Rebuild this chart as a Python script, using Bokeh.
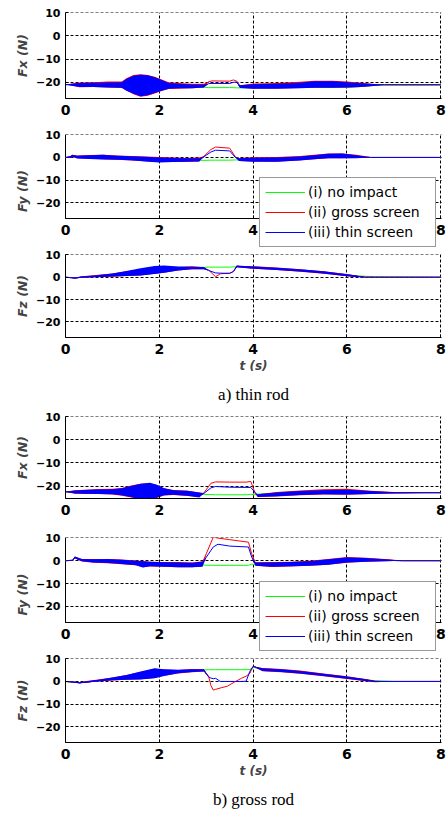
from bokeh.plotting import figure
from bokeh.layouts import column
from bokeh.models import Range1d, FixedTicker, Legend, LegendItem, Title, Grid
from bokeh.embed import file_html
from bokeh.resources import INLINE

# ---------------- data ----------------
SERIES_LABELS = ["(i) no impact", "(ii) gross screen", "(iii) thin screen"]
X_TICKS = [0, 2, 4, 6, 8]
Y_TICKS = [-20, -10, 0, 10]

# a) thin rod - Fx
TR_FX_T = [0, 0.1, 0.3, 0.6, 0.9, 1.2, 1.3, 1.45, 1.6, 1.75, 1.9, 2.05, 2.2, 2.4, 2.7, 2.95, 3.05, 3.12, 3.5, 3.58, 3.65, 3.72, 4.0, 4.5, 5.0, 5.3, 5.7, 6.0, 6.3, 6.6, 6.8, 8.0]
TR_FX_GREEN = [-21, -21, -21.2, -21.2, -21.3, -21.4, -21.4, -21.5, -21.5, -21.5, -21.5, -21.5, -21.6, -21.7, -21.9, -22.1, -22.3, -22.3, -22.3, -22.3, -22.4, -22.4, -22.4, -22.3, -22.2, -22.2, -22.2, -22.1, -21.8, -21.4, -21.2, -21.2]
TR_FX_RED = [-21, -21, -21, -21, -20.8, -20.8, -20.9, -21, -21.3, -21.3, -21.3, -21.3, -21.4, -21.5, -21.6, -21.3, -19.8, -19.4, -19.5, -19.0, -19.5, -22.0, -21.8, -21.6, -21.3, -20.9, -20.9, -21.0, -21.1, -21.0, -21.0, -21.0]
TR_FX_RED_LO = [-21, -21.3, -22.1, -22.0, -22.2, -22.5, -23.5, -25.2, -26.2, -25.8, -24.8, -23.8, -22.9, -22.8, -22.6, -22.2, -19.8, -19.4, -19.5, -19.0, -19.5, -22.4, -22.7, -22.7, -22.5, -22.3, -22.3, -22.2, -22.0, -21.5, -21.0, -21.0]
TR_FX_RED_HI = [-21, -20.6, -20.1, -20.0, -19.7, -19.7, -18.3, -16.9, -16.5, -16.8, -17.6, -18.8, -20.0, -20.3, -20.6, -20.6, -19.8, -19.4, -19.5, -19.0, -19.5, -21.3, -20.5, -20.3, -19.8, -19.3, -19.3, -19.7, -20.2, -20.7, -21.0, -21.0]
TR_FX_BLUE = [-21, -21, -21.1, -21.1, -21.1, -21.2, -21.2, -21.1, -21.3, -21.3, -21.2, -21.3, -21.5, -21.6, -21.7, -21.6, -20.6, -20.5, -20.5, -20.0, -19.9, -22.0, -21.8, -21.7, -21.4, -21.0, -21.0, -21.1, -21.2, -21.1, -21.1, -21.1]
TR_FX_BLUE_LO = [-21, -21.4, -22.0, -22.0, -22.2, -22.4, -23.6, -25.0, -26.0, -25.6, -24.6, -23.6, -22.8, -22.6, -22.6, -22.3, -20.6, -20.5, -20.5, -20.0, -19.9, -22.5, -22.8, -22.8, -22.6, -22.4, -22.4, -22.3, -22.0, -21.5, -21.1, -21.1]
TR_FX_BLUE_HI = [-21, -20.7, -20.3, -20.2, -20.1, -20.0, -18.5, -17.2, -16.7, -17.0, -17.8, -19.0, -20.3, -20.6, -20.9, -21.0, -20.6, -20.5, -20.5, -20.0, -19.9, -21.3, -20.8, -20.6, -20.2, -19.6, -19.6, -20.0, -20.4, -20.8, -21.1, -21.1]

# a) thin rod - Fy
TR_FY_T = [0, 0.1, 0.15, 0.25, 0.5, 0.8, 1.1, 1.4, 1.7, 2.0, 2.3, 2.6, 2.85, 2.95, 3.1, 3.2, 3.5, 3.62, 3.7, 4.0, 4.5, 5.0, 5.3, 5.6, 5.9, 6.2, 6.5, 8.0]
TR_FY_GREEN = [0, 0.2, 1.0, 0.2, 0.2, 0, -0.2, -0.4, -0.8, -1.0, -1.1, -1.2, -1.2, -1.3, -1.2, -1.2, -1.2, -1.1, -1.1, -1.0, -0.9, -0.5, -0.1, 0.3, 0.4, 0.3, 0, 0]
TR_FY_RED = [0, 0.2, 0.8, 0.3, 0.2, 0, -0.2, -0.4, -0.8, -1.0, -1.1, -1.2, -1.0, 0.5, 3.5, 4.6, 4.1, 0.3, -0.8, -0.9, -0.9, -0.5, -0.1, 0.3, 0.4, 0.3, 0, 0]
TR_FY_RED_LO = [0, -0.2, 0.2, -0.4, -0.6, -0.8, -1.0, -1.3, -1.7, -2.0, -2.0, -1.9, -1.8, 0.5, 3.5, 4.6, 4.1, 0.3, -1.6, -1.8, -1.9, -1.2, -0.8, -0.4, -0.3, -0.2, 0, 0]
TR_FY_RED_HI = [0, 0.6, 1.1, 0.9, 1.1, 1.2, 0.9, 0.6, 0.4, 0.2, 0.0, -0.2, 0.0, 0.5, 3.5, 4.6, 4.1, 0.3, -0.2, 0.1, 0.2, 0.6, 1.2, 1.7, 1.8, 1.2, 0.2, 0]
TR_FY_BLUE = [0, 0.2, 0.8, 0.2, 0.1, -0.1, -0.3, -0.5, -0.9, -1.1, -1.1, -1.2, -1.1, 0.3, 2.4, 3.2, 2.9, 0.0, -0.9, -1.0, -1.0, -0.6, -0.2, 0.3, 0.5, 0.3, 0, 0]
TR_FY_BLUE_LO = [0, -0.2, 0.3, -0.5, -0.7, -0.9, -1.0, -1.2, -1.8, -2.2, -2.0, -1.9, -1.8, 0.3, 2.4, 3.2, 2.9, 0.0, -1.6, -1.9, -1.9, -1.3, -0.8, -0.4, -0.3, -0.3, 0, 0]
TR_FY_BLUE_HI = [0, 0.5, 1.2, 0.8, 1.0, 1.2, 0.8, 0.5, 0.3, 0.0, -0.2, -0.4, -0.3, 0.3, 2.4, 3.2, 2.9, 0.0, -0.3, -0.1, 0.0, 0.4, 1.0, 1.6, 1.7, 1.0, 0, 0]

# a) thin rod - Fz
TR_FZ_T = [0, 0.1, 0.2, 0.35, 0.6, 1.0, 1.3, 1.6, 1.9, 2.1, 2.4, 2.7, 2.95, 3.05, 3.2, 3.3, 3.5, 3.58, 3.65, 4.0, 4.5, 5.0, 5.5, 6.0, 6.2, 6.4, 6.6, 8.0]
TR_FZ_GREEN = [0, -0.2, -0.4, 0, 0.3, 0.9, 1.5, 2.2, 2.9, 3.3, 3.8, 4.3, 4.4, 4.5, 4.5, 4.5, 4.5, 4.6, 4.7, 4.3, 3.8, 3.1, 2.2, 1.0, 0.6, 0.4, 0.2, 0]
TR_FZ_RED = [0, -0.2, -0.4, 0, 0.3, 0.8, 1.4, 2.1, 2.8, 3.2, 3.7, 4.1, 3.9, 3.2, 0.2, 1.5, 1.8, 2.6, 4.9, 4.3, 3.7, 3.0, 2.1, 0.9, 0.4, 0, 0, 0]
TR_FZ_RED_LO = [0, -0.3, -0.5, -0.2, 0, 0.2, 0.5, 0.8, 1.5, 2.0, 3.0, 3.5, 3.5, 3.2, 0.2, 1.5, 1.8, 2.6, 4.4, 3.8, 3.2, 2.4, 1.5, 0.4, 0.1, 0, 0, 0]
TR_FZ_RED_HI = [0, 0, -0.1, 0.4, 0.9, 1.6, 2.6, 3.6, 4.6, 4.8, 4.6, 4.9, 4.4, 3.2, 0.2, 1.5, 1.8, 2.6, 5.0, 4.9, 4.3, 3.6, 2.7, 1.4, 0.8, 0, 0, 0]
TR_FZ_BLUE = [0, -0.2, -0.4, 0, 0.3, 0.8, 1.4, 2.1, 2.8, 3.2, 3.7, 4.1, 3.9, 3.0, 1.9, 1.8, 1.7, 2.5, 4.9, 4.3, 3.7, 3.0, 2.1, 0.9, 0.4, 0, 0, 0]
TR_FZ_BLUE_LO = [0, -0.3, -0.6, -0.2, 0, 0.3, 0.5, 0.7, 1.4, 2.0, 3.0, 3.6, 3.6, 3.0, 1.9, 1.8, 1.7, 2.5, 4.4, 3.8, 3.2, 2.5, 1.6, 0.4, 0.1, 0, 0, 0]
TR_FZ_BLUE_HI = [0, 0, -0.2, 0.3, 0.8, 1.6, 2.8, 4.0, 5.0, 5.2, 4.8, 4.7, 4.5, 3.0, 1.9, 1.8, 1.7, 2.5, 5.2, 4.8, 4.2, 3.5, 2.6, 1.3, 0.8, 0, 0, 0]

# b) gross rod - Fx
GR_FX_T = [0, 0.2, 0.4, 0.7, 1.0, 1.2, 1.4, 1.6, 1.8, 1.95, 2.1, 2.3, 2.6, 2.85, 2.95, 3.1, 3.2, 3.5, 3.85, 3.95, 4.05, 4.1, 4.5, 5.0, 5.5, 6.0, 6.5, 7.0, 8.0]
GR_FX_GREEN = [-22.5, -22.6, -22.5, -22.3, -22.3, -22.5, -22.7, -22.8, -22.9, -22.9, -22.8, -22.9, -23.1, -23.5, -23.6, -23.7, -23.8, -23.8, -23.8, -23.6, -23.8, -23.5, -23.2, -22.8, -22.6, -22.6, -22.7, -22.9, -22.9]
GR_FX_RED = [-22.5, -22.6, -22.5, -22.4, -22.4, -22.6, -22.8, -22.9, -23.0, -22.9, -22.8, -22.9, -23.2, -24.0, -23.0, -18.8, -18.2, -18.3, -18.3, -18.0, -23.5, -24.2, -23.6, -23.0, -22.7, -22.7, -22.8, -22.9, -22.9]
GR_FX_RED_LO = [-22.5, -23.3, -23.4, -23.5, -23.7, -24.2, -25.0, -26.0, -26.0, -25.2, -24.1, -23.9, -24.3, -24.8, -23.0, -18.8, -18.2, -18.3, -18.3, -18.0, -23.5, -24.8, -24.5, -24.0, -23.7, -23.8, -23.5, -23.2, -22.9]
GR_FX_RED_HI = [-22.5, -21.8, -21.6, -21.3, -21.2, -20.8, -19.8, -19.0, -18.8, -19.6, -21.0, -21.7, -22.0, -22.8, -23.0, -18.8, -18.2, -18.3, -18.3, -18.0, -23.5, -23.6, -22.6, -21.9, -21.4, -21.2, -22.0, -22.6, -22.9]
GR_FX_BLUE = [-22.5, -22.6, -22.5, -22.4, -22.4, -22.6, -22.8, -22.9, -23.0, -22.9, -22.8, -22.9, -23.2, -24.0, -23.2, -20.8, -20.2, -20.5, -20.6, -20.6, -23.0, -24.2, -23.6, -23.0, -22.7, -22.7, -22.8, -22.9, -22.9]
GR_FX_BLUE_LO = [-22.5, -23.2, -23.3, -23.4, -23.6, -24.0, -24.8, -25.8, -26.0, -25.0, -24.0, -23.8, -24.2, -25.0, -23.2, -20.8, -20.2, -20.5, -20.6, -20.6, -23.0, -24.8, -24.4, -23.9, -23.6, -23.7, -23.4, -23.1, -22.9]
GR_FX_BLUE_HI = [-22.5, -21.9, -21.7, -21.5, -21.4, -21.0, -20.0, -19.0, -18.6, -19.4, -21.0, -21.8, -22.0, -22.8, -23.2, -20.8, -20.2, -20.5, -20.6, -20.6, -23.0, -23.6, -22.8, -22.2, -21.8, -21.6, -22.2, -22.7, -22.9]

# b) gross rod - Fy
GR_FY_T = [0, 0.15, 0.2, 0.25, 0.35, 0.6, 0.9, 1.2, 1.5, 1.65, 1.8, 2.1, 2.4, 2.7, 2.92, 3.0, 3.15, 3.25, 3.5, 3.9, 3.97, 4.05, 4.4, 4.8, 5.2, 5.6, 6.0, 6.4, 6.8, 7.2, 8.0]
GR_FY_GREEN = [0, 0.2, 1.4, 0.8, 0.3, -0.2, -0.3, -0.6, -1.0, -1.2, -1.4, -1.6, -1.7, -1.8, -1.8, -2.0, -2.0, -2.0, -2.0, -2.0, -1.5, -1.8, -1.7, -1.5, -1.2, -0.6, 0.3, 0.4, 0.2, 0, 0]
GR_FY_RED = [0, 0.2, 1.5, 1.0, 0.3, -0.2, -0.3, -0.6, -1.0, -1.3, -1.4, -1.6, -1.7, -1.8, -1.2, 3.0, 10.3, 9.9, 9.2, 8.1, 3.0, -1.4, -1.7, -1.5, -1.2, -0.6, 0.3, 0.4, 0.2, 0, 0]
GR_FY_RED_LO = [0, 0, 1.2, 0.6, -0.3, -0.9, -1.1, -1.5, -2.0, -2.8, -2.5, -2.6, -2.9, -2.8, -2.4, 3.0, 10.3, 9.9, 9.2, 8.1, 3.0, -2.2, -2.7, -2.5, -2.2, -1.8, -0.9, -0.5, -0.2, 0, 0]
GR_FY_RED_HI = [0, 0.3, 1.8, 1.5, 0.8, 0.7, 0.8, 0.5, 0.1, -0.1, -0.4, -0.6, -0.6, -0.8, -0.2, 3.0, 10.3, 9.9, 9.2, 8.1, 3.0, -0.7, -0.6, -0.4, 0.0, 0.8, 1.6, 1.3, 0.7, 0.1, 0]
GR_FY_BLUE = [0, 0.2, 1.3, 0.8, 0.2, -0.2, -0.3, -0.6, -1.0, -1.5, -1.4, -1.6, -1.8, -1.8, -1.4, 1.5, 6.0, 7.2, 6.4, 6.0, 1.5, -1.5, -1.7, -1.5, -1.1, -0.6, 0.3, 0.4, 0.2, 0, 0]
GR_FY_BLUE_LO = [0, 0, 1.2, 0.5, -0.2, -0.8, -1.0, -1.4, -2.0, -3.0, -2.4, -2.6, -2.8, -2.8, -2.6, 1.5, 6.0, 7.2, 6.4, 6.0, 1.5, -2.2, -2.6, -2.4, -2.2, -1.8, -0.8, -0.4, -0.2, 0, 0]
GR_FY_BLUE_HI = [0, 0.3, 1.8, 1.4, 0.8, 0.6, 0.7, 0.4, 0.0, -0.2, -0.5, -0.7, -0.8, -0.9, -0.5, 1.5, 6.0, 7.2, 6.4, 6.0, 1.5, -0.8, -0.8, -0.6, -0.2, 0.6, 1.4, 1.2, 0.6, 0, 0]

# b) gross rod - Fz
GR_FZ_T = [0, 0.15, 0.3, 0.45, 0.7, 1.0, 1.3, 1.6, 1.9, 2.1, 2.4, 2.7, 2.95, 3.05, 3.1, 3.15, 3.2, 3.3, 3.45, 3.6, 3.75, 3.85, 3.93, 4.0, 4.2, 4.6, 5.0, 5.5, 6.0, 6.4, 6.6, 7.0, 8.0]
GR_FZ_GREEN = [0, -0.3, -0.6, -0.3, 0.4, 1.1, 1.7, 2.4, 3.1, 3.6, 4.3, 4.8, 5.1, 5.2, 5.2, 5.2, 5.2, 5.2, 5.2, 5.2, 5.2, 5.2, 5.3, 6.3, 5.2, 4.8, 4.1, 2.9, 1.7, 0.8, 0.3, 0, 0]
GR_FZ_RED = [0, -0.3, -0.6, -0.3, 0.4, 1.1, 1.7, 2.4, 3.1, 3.6, 4.3, 4.8, 4.9, 2.3, -1.8, -3.8, -3.5, -2.9, -2.1, -0.3, 1.4, 2.3, 3.6, 6.7, 5.2, 4.8, 4.1, 2.9, 1.7, 0.6, 0, 0, 0]
GR_FZ_RED_LO = [0, -0.4, -0.8, -0.5, 0.0, 0.4, 0.8, 1.0, 1.5, 2.5, 3.5, 4.1, 4.4, 2.3, -1.8, -3.8, -3.5, -2.9, -2.1, -0.3, 1.4, 2.3, 3.6, 6.7, 4.5, 4.1, 3.4, 2.3, 1.1, 0.1, -0.3, 0, 0]
GR_FZ_RED_HI = [0, 0, -0.3, 0.2, 0.9, 1.8, 2.9, 4.2, 5.6, 5.3, 5.1, 5.5, 5.4, 2.3, -1.8, -3.8, -3.5, -2.9, -2.1, -0.3, 1.4, 2.3, 3.6, 6.7, 5.9, 5.5, 4.8, 3.5, 2.3, 1.1, 0.3, 0, 0]
GR_FZ_BLUE = [0, -0.3, -0.6, -0.3, 0.4, 1.1, 1.7, 2.4, 3.1, 3.6, 4.3, 4.8, 4.9, 2.0, 1.5, 1.2, 1.4, 0, 0, 0, 0, 0.1, 4.5, 6.7, 5.2, 4.8, 4.1, 2.9, 1.7, 0.6, 0, 0, 0]
GR_FZ_BLUE_LO = [0, -0.4, -0.8, -0.5, 0.0, 0.5, 0.8, 0.9, 1.4, 2.4, 3.6, 4.2, 4.4, 2.0, 1.5, 1.2, 1.4, 0, 0, 0, 0, 0.1, 4.5, 6.7, 4.6, 4.2, 3.5, 2.4, 1.2, 0.2, -0.2, 0, 0]
GR_FZ_BLUE_HI = [0, 0, -0.3, 0.1, 0.8, 1.8, 2.8, 4.4, 5.8, 5.4, 5.2, 5.4, 5.4, 2.0, 1.5, 1.2, 1.4, 0, 0, 0, 0, 0.1, 4.5, 6.7, 5.8, 5.4, 4.6, 3.4, 2.2, 1.0, 0.2, 0, 0]

# ---------------- styling / layout ----------------
C_GREEN = "#00ff00"
C_RED = "#ff0000"
C_BLUE = "#0000ff"
TICK_FONT = "DejaVu Sans"
X_END = 8.015     # a hair past 8 so the grid line at 8 is drawn
Y_TOP = 10.15     # a hair past 10 so the grid line at 10 is drawn
FIG_W = 446
B_LEFT = 65
B_RIGHT = 5
FRAME_W = FIG_W - B_LEFT - B_RIGHT
LEG_B_LEFT = 59   # legend panels: frame starts a little left of t = 0
LEG_B_RIGHT = 1
LEG_B_BOTTOM = 1


def style_axes(p, ylabel, xlabel, y_standoff):
    p.xaxis.ticker = FixedTicker(ticks=X_TICKS)
    p.yaxis.ticker = FixedTicker(ticks=Y_TICKS)
    for ax in (p.xaxis[0], p.yaxis[0]):
        ax.axis_line_color = "black"
        ax.axis_line_width = 1
        ax.major_tick_in = 3
        ax.major_tick_out = 0
        ax.major_tick_line_color = "black"
        ax.minor_tick_line_color = None
        ax.major_label_text_font = TICK_FONT
        ax.major_label_text_font_style = "bold"
        ax.major_label_text_color = "black"
    p.xaxis.major_label_text_font_size = "14px"
    p.xaxis.major_label_standoff = 6
    p.yaxis.major_label_text_font_size = "11px"
    p.yaxis.major_label_standoff = y_standoff

    p.yaxis.axis_label = ylabel
    p.yaxis.axis_label_text_font = TICK_FONT
    p.yaxis.axis_label_text_font_style = "bold italic"
    p.yaxis.axis_label_text_font_size = "12.5px"
    p.yaxis.axis_label_standoff = 3
    if xlabel:
        p.xaxis.axis_label = xlabel
        p.xaxis.axis_label_text_font = TICK_FONT
        p.xaxis.axis_label_text_font_style = "bold italic"
        p.xaxis.axis_label_text_font_size = "12px"
        p.xaxis.axis_label_standoff = 2

    p.grid.grid_line_color = "black"
    p.grid.grid_line_dash = "3 2"
    p.grid.grid_line_width = 1


def panel(t, g, r, rlo, rhi, b, blo, bhi, ylabel, ymin, height, btop, bbot,
          xlabel=None, caption=None, cap_standoff=14, legend=False, data_h=None):
    if legend:
        # The frame reaches (almost) the canvas edges so that the legend, which
        # hangs below the data area over the tick labels, is not clipped, and
        # the end tick labels of the pinned x axis are not cut either.
        sx = FRAME_W / X_END
        sy = data_h / (Y_TOP - ymin)
        xr = Range1d(-(B_LEFT - LEG_B_LEFT) / sx, X_END + (B_RIGHT - LEG_B_RIGHT) / sx)
        yr = Range1d(ymin - (height - btop - LEG_B_BOTTOM - data_h) / sy, Y_TOP)
        opts = dict(min_border_left=LEG_B_LEFT, min_border_right=LEG_B_RIGHT,
                    min_border_top=btop, min_border_bottom=LEG_B_BOTTOM,
                    frame_align=False)
        y_standoff = 5 - (B_LEFT - LEG_B_LEFT)
    else:
        xr = Range1d(0, X_END)
        yr = Range1d(ymin, Y_TOP)
        opts = dict(min_border_left=B_LEFT, min_border_right=B_RIGHT,
                    min_border_top=btop, min_border_bottom=bbot)
        y_standoff = 5
    p = figure(width=FIG_W, height=height, title=None, x_range=xr, y_range=yr,
               output_backend="svg", toolbar_location=None, **opts)
    p.outline_line_color = None
    p.background_fill_color = "white"
    p.border_fill_color = "white"
    style_axes(p, ylabel, xlabel, y_standoff)

    if legend:
        # x axis pinned at the bottom of the data area
        p.xaxis.fixed_location = ymin
        p.xaxis.bounds = (0, X_END)
        # y axis stays in its side panel for its labels; its line is drawn at t = 0
        p.yaxis.axis_line_color = None
        p.yaxis.major_tick_line_color = None
        p.xgrid.cross_bounds = (ymin, Y_TOP)
        p.ygrid.cross_bounds = (0, X_END)
        p.add_layout(Grid(dimension=0, ticker=FixedTicker(ticks=[0]),
                          cross_bounds=(ymin, Y_TOP),
                          grid_line_color="black", grid_line_width=1))

    gl = p.line(t, g, line_color=C_GREEN, line_width=1)
    p.varea(x=t, y1=rlo, y2=rhi, fill_color=C_RED)
    rl = p.line(t, r, line_color=C_RED, line_width=1)
    p.varea(x=t, y1=blo, y2=bhi, fill_color=C_BLUE)
    bl = p.line(t, b, line_color=C_BLUE, line_width=1)

    if legend:
        lg = Legend(items=[LegendItem(label=SERIES_LABELS[0], renderers=[gl]),
                           LegendItem(label=SERIES_LABELS[1], renderers=[rl]),
                           LegendItem(label=SERIES_LABELS[2], renderers=[bl])],
                    location=(B_LEFT - LEG_B_LEFT + 194, 0), orientation="vertical",
                    padding=5, spacing=2, margin=0,
                    glyph_width=40, glyph_height=18, label_height=18,
                    label_width=122, label_standoff=3,
                    border_line_color="#333333", border_line_width=1,
                    background_fill_color="white", background_fill_alpha=1,
                    label_text_font="DejaVu Sans", label_text_font_size="14px",
                    label_text_color="black")
        p.add_layout(lg)

    if caption:
        p.add_layout(Title(text=caption, align="center",
                           text_font="Liberation Serif", text_font_size="17px",
                           text_font_style="normal", text_color="black",
                           standoff=cap_standoff), "below")
    return p


p1 = panel(TR_FX_T, TR_FX_GREEN, TR_FX_RED, TR_FX_RED_LO, TR_FX_RED_HI,
           TR_FX_BLUE, TR_FX_BLUE_LO, TR_FX_BLUE_HI, "Fx (N)", -27, 128, 12, 30)
p2 = panel(TR_FY_T, TR_FY_GREEN, TR_FY_RED, TR_FY_RED_LO, TR_FY_RED_HI,
           TR_FY_BLUE, TR_FY_BLUE_LO, TR_FY_BLUE_HI, "Fy (N)", -27, 120, 6, 0,
           legend=True, data_h=84)
p3 = panel(TR_FZ_T, TR_FZ_GREEN, TR_FZ_RED, TR_FZ_RED_LO, TR_FZ_RED_HI,
           TR_FZ_BLUE, TR_FZ_BLUE_LO, TR_FZ_BLUE_HI, "Fz (N)", -27, 162, 6, 71,
           xlabel="t (s)", caption="a) thin rod", cap_standoff=14)
p4 = panel(GR_FX_T, GR_FX_GREEN, GR_FX_RED, GR_FX_RED_LO, GR_FX_RED_HI,
           GR_FX_BLUE, GR_FX_BLUE_LO, GR_FX_BLUE_HI, "Fx (N)", -25.4, 120, 6, 32)
p5 = panel(GR_FY_T, GR_FY_GREEN, GR_FY_RED, GR_FY_RED_LO, GR_FY_RED_HI,
           GR_FY_BLUE, GR_FY_BLUE_LO, GR_FY_BLUE_HI, "Fy (N)", -27, 122, 7, 0,
           legend=True, data_h=85)
p6 = panel(GR_FZ_T, GR_FZ_GREEN, GR_FZ_RED, GR_FZ_RED_LO, GR_FZ_RED_HI,
           GR_FZ_BLUE, GR_FZ_BLUE_LO, GR_FZ_BLUE_HI, "Fz (N)", -27, 163, 6, 72,
           xlabel="t (s)", caption="b) gross rod", cap_standoff=14)

layout = column(p1, p2, p3, p4, p5, p6, spacing=0)

open("out.html", "w").write(file_html(layout, INLINE))
